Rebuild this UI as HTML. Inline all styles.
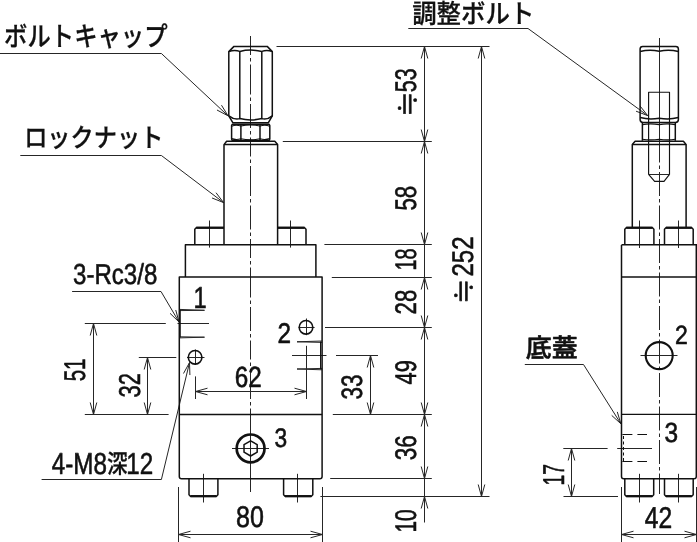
<!DOCTYPE html>
<html lang="ja">
<head>
<meta charset="utf-8">
<title>外形寸法図</title>
<style>
html,body{margin:0;padding:0;background:#fff;}
body{width:697px;height:542px;overflow:hidden;}
svg{display:block;filter:grayscale(1);}
text{font-family:"Liberation Sans", "Noto Sans CJK JP", sans-serif;fill:#111;stroke:#111;stroke-width:0.7px;stroke-linejoin:round;text-rendering:geometricPrecision;}
.j{font-weight:500;stroke-width:0.3px;}
.tk{fill:none;stroke:#111;stroke-width:1.5;stroke-linejoin:round;stroke-linecap:butt;}
.tn{fill:none;stroke:#262626;stroke-width:1.0;}
.md{fill:none;stroke:#111;stroke-width:1.15;stroke-linejoin:round;}
</style>
</head>
<body>
<svg width="697" height="542" viewBox="0 0 697 542">
<rect width="697" height="542" fill="#fff"/>
<g class="tn">
<path d="M209.5 220.5 L209.5 247.6"/>
<path d="M290.5 220.5 L290.5 247.6"/>
<path d="M203.5 473.8 L203.5 502.5"/>
<path d="M297.5 473.8 L297.5 502.5"/>
<path d="M179.4 309.4 L204.5 310.3"/>
<path d="M179.4 310.6 L204.5 310.3"/>
<path d="M179.4 337.9 L204.5 337.2"/>
<path d="M179.4 336.8 L204.5 337.2"/>
<path d="M177.5 323.5 L209 323.5"/>
<path d="M297 341.8 L322.2 341"/>
<path d="M297 341.8 L322.2 342.4"/>
<path d="M297 369 L322.2 368.4"/>
<path d="M297 369 L322.2 369.8"/>
<path d="M292 355.5 L326.5 355.5"/>
<path d="M336 355.5 L378 355.5"/>
<path d="M187 357.5 L204.5 357.5"/>
<path d="M195.5 349.5 L195.5 364.8"/>
<path d="M298.6 327.5 L314.6 327.5"/>
<path d="M306.5 318.5 L306.5 335.2"/>
<path d="M232 448.5 L269 448.5"/>
<path d="M250.5 418 L250.5 484"/>
<path d="M640.5 355.5 L677.5 355.5"/>
<path d="M639.5 220.5 L639.5 248"/>
<path d="M678.5 220.5 L678.5 248"/>
<path d="M639.5 473.8 L639.5 502.5"/>
<path d="M678.5 473.8 L678.5 502.5"/>
<path d="M648.6 174.5 L669.5 174.5"/>
<path d="M659.5 51 L659.5 141"/>
<path d="M563.3 448.5 L607.6 448.5"/>
<path d="M617.2 448.5 L652 448.5"/>
<path d="M276.5 46.5 L489.5 46.5"/>
<path d="M282.8 141.5 L431.8 141.5"/>
<path d="M324.4 244.5 L431.8 244.5"/>
<path d="M331.8 277.5 L431.8 277.5"/>
<path d="M325 327.5 L431.8 327.5"/>
<path d="M332.8 414.5 L431.8 414.5"/>
<path d="M330.2 478.5 L431.8 478.5"/>
<path d="M320.4 496.5 L489.5 496.5"/>
<path d="M424.5 46.4 L424.5 522.5"/>
<path d="M481.5 46.4 L481.5 496.4"/>
<path d="M427.8 58.5 L424.5 46.5 L421.2 58.5"/>
<path d="M421.2 129.5 L424.5 141.5 L427.8 129.5"/>
<path d="M427.8 153.5 L424.5 141.5 L421.2 153.5"/>
<path d="M421.2 232.5 L424.5 244.5 L427.8 232.5"/>
<path d="M427.8 289.5 L424.5 277.5 L421.2 289.5"/>
<path d="M421.2 315.5 L424.5 327.5 L427.8 315.5"/>
<path d="M427.8 339.5 L424.5 327.5 L421.2 339.5"/>
<path d="M421.2 402.5 L424.5 414.5 L427.8 402.5"/>
<path d="M427.8 426.5 L424.5 414.5 L421.2 426.5"/>
<path d="M421.2 466.5 L424.5 478.5 L427.8 466.5"/>
<path d="M427.8 508.5 L424.5 496.5 L421.2 508.5"/>
<path d="M484.8 58.5 L481.5 46.5 L478.2 58.5"/>
<path d="M478.2 484.5 L481.5 496.5 L484.8 484.5"/>
<path d="M370.5 355.4 L370.5 414.4"/>
<path d="M373.8 367.5 L370.5 355.5 L367.2 367.5"/>
<path d="M367.2 402.5 L370.5 414.5 L373.8 402.5"/>
<path d="M195.1 391.5 L306 391.5"/>
<path d="M195.5 376.4 L195.5 399"/>
<path d="M306.5 345.8 L306.5 399"/>
<path d="M207.5 388.2 L195.5 391.5 L207.5 394.8"/>
<path d="M294.5 394.8 L306.5 391.5 L294.5 388.2"/>
<path d="M179 534.5 L322.3 534.5"/>
<path d="M178.5 487 L178.5 542"/>
<path d="M322.5 487 L322.5 542"/>
<path d="M190.5 531.2 L178.5 534.5 L190.5 537.8"/>
<path d="M310.5 537.8 L322.5 534.5 L310.5 531.2"/>
<path d="M84.8 323.5 L165.8 323.5"/>
<path d="M84.8 414.5 L168.6 414.5"/>
<path d="M93.5 323.3 L93.5 414.4"/>
<path d="M96.8 335.5 L93.5 323.5 L90.2 335.5"/>
<path d="M90.2 402.5 L93.5 414.5 L96.8 402.5"/>
<path d="M138.8 357.5 L176.3 357.5"/>
<path d="M147.5 357.3 L147.5 414.4"/>
<path d="M150.8 369.5 L147.5 357.5 L144.2 369.5"/>
<path d="M144.2 402.5 L147.5 414.5 L150.8 402.5"/>
<path d="M571.5 448.1 L571.5 496.5"/>
<path d="M563.5 496.5 L618 496.5"/>
<path d="M574.8 460.5 L571.5 448.5 L568.2 460.5"/>
<path d="M568.2 484.5 L571.5 496.5 L574.8 484.5"/>
<path d="M621.5 534.5 L696.6 534.5"/>
<path d="M621.5 487 L621.5 542"/>
<path d="M696.5 487 L696.5 542"/>
<path d="M633.5 531.2 L621.5 534.5 L633.5 537.8"/>
<path d="M684.5 537.8 L696.5 534.5 L684.5 531.2"/>
<path d="M0 53.5 L161.4 53.5 L228 115.8"/>
<path d="M216.982 110.012 L228 115.8 L221.491 105.192"/>
<path d="M20.3 155.5 L161.4 155.5 L223.6 202.6"/>
<path d="M212.041 197.987 L223.6 202.6 L216.025 192.725"/>
<path d="M408.3 28.5 L528 28.5 L647.7 115.6"/>
<path d="M636.055 111.208 L647.7 115.6 L639.939 105.871"/>
<path d="M72.1 291.5 L161 291.5 L179 322"/>
<path d="M170.059 313.343 L179 322 L175.743 309.988"/>
<path d="M41.6 479.5 L161.4 479.5 L189.5 362.6"/>
<path d="M189.904 375.039 L189.5 362.6 L183.487 373.496"/>
<path d="M524.8 364.5 L583.5 364.5 L620.9 423.8"/>
<path d="M611.707 415.41 L620.9 423.8 L617.29 411.89"/>
</g>
<path class="tn" d="M250.5 36 V492" stroke-dasharray="19 3 3.5 3 30 3 3.5 3 24 3 3.5 3"/>
<path class="tn" d="M659.5 38 V494" stroke-dasharray="24 3 3.5 3"/>
<path class="tn" style="stroke-width:1;stroke:#111" d="M622.4 434.5 H647" stroke-dasharray="10 5"/>
<path class="tn" style="stroke-width:1;stroke:#111" d="M622.4 461.5 H647" stroke-dasharray="10 5"/>
<path class="tn" style="stroke-width:1;stroke:#111" d="M623.5 436 V461" stroke-dasharray="3 2.5"/>
<circle cx="195.1" cy="357.3" r="6.8" fill="none" stroke="#111" stroke-width="1.6"/>
<circle cx="306.0" cy="327.3" r="6.8" fill="none" stroke="#111" stroke-width="1.6"/>
<circle cx="250.6" cy="448.4" r="13.9" fill="none" stroke="#111" stroke-width="2.7"/>
<circle cx="659.2" cy="355.6" r="13.5" fill="none" stroke="#111" stroke-width="2.1"/>
<g class="md">
<path d="M180.2 309.8 L180.2 337.4"/>
<path d="M320.6 341.5 L320.6 369.3"/>
<path d="M621.5 414.3 L697 414.3"/>
<path d="M648.6 174.4 L648.6 92.2 L669.5 92.2 L669.5 174.4"/>
<path d="M648.6 174.4 L654.6 181.3 L664 181.3 L669.5 174.4"/>
<path d="M231.6 126.2 Q236 124.4 240.9 126 Q250.4 123.6 260 126 Q265 124.4 269.8 126.2"/>
<path d="M231.6 138.6 Q236 140.2 240.9 138.8 Q250.4 141 260 138.8 Q265 140.2 269.8 138.6"/>
<path d="M642.4 124.6 Q650.5 123 659.2 124.6 Q667.5 123 675.3 124.6"/>
<path d="M642.4 139.2 Q650.5 140.6 659.2 139.2 Q667.5 140.6 675.3 139.2"/>
</g>
<g class="tk" style="stroke-width:2.3">
<path d="M196.2 227.7 L224 227.7"/>
<path d="M277.6 227.7 L304.6 227.7"/>
<path d="M190.4 496.2 L216.5 496.2"/>
<path d="M285 496.2 L311.4 496.2"/>
<path d="M626.2 227.7 L652.5 227.7"/>
<path d="M665.9 227.7 L691.8 227.7"/>
<path d="M626.2 496.2 L652.3 496.2"/>
<path d="M665.9 496.2 L691.8 496.2"/>
</g>
<g class="tk">
<path d="M228.8 51.6 L234 46.4 L267.2 46.4 L272.3 51.6 L272.3 115.8 L268.4 122.7 L232.8 122.7 L228.8 115.8 Z"/>
<path d="M228.8 51.6 Q234.5 49.6 239.8 51.4 Q250.6 48.8 261.8 51.4 Q267 49.6 272.3 51.6"/>
<path d="M228.8 115.8 Q234.5 120.2 239.8 118.6 Q250.6 121.4 261.8 118.6 Q267 120.2 272.3 115.8"/>
<path d="M239.8 51.4 L239.8 118.6"/>
<path d="M261.8 51.4 L261.8 118.6"/>
<path d="M232.2 124.2 L269.2 124.2 L269.8 125.5 L269.8 139 L269.2 140.4 L232.2 140.4 L231.6 139 L231.6 125.5 Z"/>
<path d="M240.9 124.6 L240.9 140.4"/>
<path d="M260 124.6 L260 140.4"/>
<path d="M224 245 L224 144.6 L226.6 141.3 L274.8 141.3 L277.6 144.6 L277.6 245"/>
<path d="M224 144.6 L277.6 144.6"/>
<path d="M194.8 245 L194.8 229.2 L196.2 227.8 L224 227.8"/>
<path d="M277.6 227.8 L304.6 227.8 L306 229.2 L306 245"/>
<path d="M185.4 277 L185.4 244.7 L315.9 244.7 L315.9 277"/>
<path d="M179.3 277 H322.1 V476.4 Q322.1 478.7 319.8 478.7 H181.6 Q179.3 478.7 179.3 476.4 Z"/>
<path d="M179.3 414.4 L322.1 414.4"/>
<path d="M189 478.8 L189 494.8 L190.4 496.2 L216.5 496.2 L217.9 494.8 L217.9 478.8"/>
<path d="M283.6 478.8 L283.6 494.8 L285 496.2 L311.4 496.2 L312.8 494.8 L312.8 478.8"/>
<path d="M250.6 440.8 L244.018 444.6 L244.018 452.2 L250.6 456 L257.182 452.2 L257.182 444.6 Z"/>
<path d="M640.1 119.5 V49 Q640.1 46.4 642.7 46.4 H675.8 Q678.4 46.4 678.4 49 V119.5 Q678.4 122.4 675.5 122.4 H643 Q640.1 122.4 640.1 119.5 Z"/>
<path d="M640.1 51.6 Q649.5 49.2 659.2 51.3 Q669 49.2 678.4 51.6"/>
<path d="M640.1 117.6 Q649.5 120 659.2 118.2 Q669 120 678.4 117.6"/>
<path d="M642.4 122.4 L642.4 140.8"/>
<path d="M675.3 122.4 L675.3 140.8"/>
<path d="M632.3 227.4 L632.3 144.4 L635.1 141.3 L683.4 141.3 L686.1 144.4 L686.1 227.4"/>
<path d="M632.3 144.4 L686.1 144.4"/>
<path d="M624.8 245 L624.8 229.2 L626.2 227.8 L652.5 227.8 L653.9 229.2 L653.9 245"/>
<path d="M664.5 245 L664.5 229.2 L665.9 227.8 L691.8 227.8 L693.2 229.2 L693.2 245"/>
<path d="M621.5 244.7 H697"/>
<path d="M621.5 245 V476.4 Q621.5 478.7 623.8 478.7 H694 Q696.3 478.7 696.3 476.4 V244.7"/>
<path d="M621.5 276.9 H697"/>
<path d="M624.8 478.8 L624.8 494.8 L626.2 496.2 L652.3 496.2 L653.7 494.8 L653.7 478.8"/>
<path d="M664.5 478.8 L664.5 494.8 L665.9 496.2 L691.8 496.2 L693.2 494.8 L693.2 478.8"/>
</g>
<text transform="translate(4.11 45.52) scale(0.866 1)" style='font-size:26.96px;stroke-width:0.3px;font-weight:500;'>ボルトキャップ</text>
<text transform="translate(24.17 147.16) scale(0.890 1)" style='font-size:26.07px;stroke-width:0.3px;font-weight:500;'>ロックナット</text>
<text transform="translate(412.17 22.88) scale(0.928 1)" style='font-size:26.34px;stroke-width:0.3px;font-weight:500;'>調整ボルト</text>
<text transform="translate(73.04 284.11) scale(0.837 1)" style='font-size:28.78px;stroke-width:0.6px;'>3-Rc3/8</text>
<text transform="translate(525.82 357.24) scale(1.009 1)" style='font-size:25.76px;stroke-width:0.6px;font-weight:500;'>底蓋</text>
<text transform="translate(51.7 474.0) scale(0.80 1)" style="font-size:30.28px;stroke-width:0.6px">4-M8<tspan style="font-size:25.8px;font-weight:500;stroke-width:0.3px" dx="0" dy="-1.0">深</tspan><tspan dx="-1.5" dy="1.0">12</tspan></text>
<text transform="translate(193.50 307.50) scale(0.785 1)" style='font-size:30.29px;stroke-width:0.6px;'>1</text>
<text transform="translate(277.38 343.10) scale(0.852 1)" style='font-size:28.57px;stroke-width:0.6px;'>2</text>
<text transform="translate(274.39 447.33) scale(0.846 1)" style='font-size:26.90px;stroke-width:0.6px;'>3</text>
<text transform="translate(674.95 344.20) scale(0.877 1)" style='font-size:26.29px;stroke-width:0.6px;'>2</text>
<text transform="translate(664.42 441.52) scale(0.886 1)" style='font-size:27.61px;stroke-width:0.6px;'>3</text>
<text transform="translate(234.69 387.01) scale(0.832 1)" style='font-size:29.15px;stroke-width:0.6px;'>62</text>
<text transform="translate(236.00 527.30) scale(0.839 1)" style='font-size:29.86px;stroke-width:0.6px;'>80</text>
<text transform="translate(644.81 527.60) scale(0.821 1)" style='font-size:30.00px;stroke-width:0.6px;'>42</text>
<text transform="translate(415.80 92.36) rotate(-90) scale(0.722 1)" style='font-size:29.86px;stroke-width:0.6px;'>53</text>
<text transform="translate(417.50 117.95) rotate(-90) scale(0.993 1)" style='font-size:28.03px;stroke-width:0.6px;font-family:"Liberation Sans","IPAGothic","Noto Sans CJK JP",sans-serif;'>≒</text>
<text transform="translate(415.80 210.59) rotate(-90) scale(0.745 1)" style='font-size:29.86px;stroke-width:0.6px;'>58</text>
<text transform="translate(415.80 270.59) rotate(-90) scale(0.666 1)" style='font-size:29.86px;stroke-width:0.6px;'>18</text>
<text transform="translate(415.80 314.41) rotate(-90) scale(0.742 1)" style='font-size:29.86px;stroke-width:0.6px;'>28</text>
<text transform="translate(415.80 384.54) rotate(-90) scale(0.734 1)" style='font-size:29.86px;stroke-width:0.6px;'>49</text>
<text transform="translate(415.80 460.30) rotate(-90) scale(0.751 1)" style='font-size:29.86px;stroke-width:0.6px;'>36</text>
<text transform="translate(415.80 532.56) rotate(-90) scale(0.697 1)" style='font-size:29.86px;stroke-width:0.6px;'>10</text>
<text transform="translate(473.40 276.50) rotate(-90) scale(0.804 1)" style='font-size:29.86px;stroke-width:0.6px;'>252</text>
<text transform="translate(474.28 305.15) rotate(-90) scale(1.009 1)" style='font-size:27.58px;stroke-width:0.6px;font-family:"Liberation Sans","IPAGothic","Noto Sans CJK JP",sans-serif;'>≒</text>
<text transform="translate(362.11 399.60) rotate(-90) scale(0.765 1)" style='font-size:29.44px;stroke-width:0.6px;'>33</text>
<text transform="translate(85.10 381.32) rotate(-90) scale(0.689 1)" style='font-size:29.86px;stroke-width:0.6px;'>51</text>
<text transform="translate(139.70 397.38) rotate(-90) scale(0.729 1)" style='font-size:30.14px;stroke-width:0.6px;'>32</text>
<text transform="translate(563.50 485.53) rotate(-90) scale(0.636 1)" style='font-size:30.14px;stroke-width:0.6px;'>17</text>
</svg>
</body>
</html>
